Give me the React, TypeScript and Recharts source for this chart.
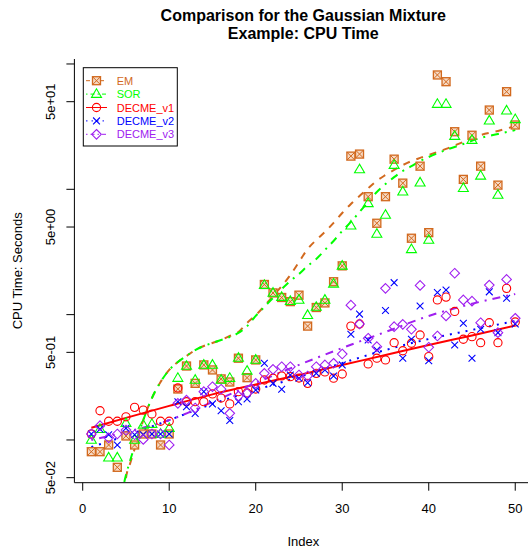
import React from "react";
import { ComposedChart, Scatter, Line, XAxis, YAxis } from "recharts";

// ---------- data ----------
const indices = [1,2,3,4,5,6,7,8,9,10,11,12,13,14,15,16,17,18,19,20,21,22,23,24,25,26,27,28,29,30,31,32,33,34,35,36,37,38,39,40,41,42,43,44,45,46,47,48,49,50];

const emTimes = [0.0806,0.0806,0.0912,0.0605,0.1076,0.0912,0.1116,0.1116,0.0912,0.1116,
  0.255,0.389,0.283,0.397,0.362,0.307,0.290,0.449,0.314,0.435,
  1.74,1.49,1.37,1.27,1.43,0.81,1.14,1.24,1.83,2.45,
  18.4,19.1,8.73,5.36,8.73,17.4,11.2,4.07,15.3,4.51,
  81.7,72.2,28.8,12.0,27.0,15.3,42.9,10.8,60.1,32.6];

const sorTimes = [0.100,0.122,0.0722,0.0722,0.136,0.100,0.132,0.134,0.1116,0.124,
  0.312,0.389,0.301,0.397,0.397,0.301,0.312,0.451,0.355,0.435,
  1.72,1.49,1.38,1.28,1.31,0.99,1.15,1.31,1.76,2.45,
  5.12,14.4,7.73,4.40,6.24,15.6,9.57,3.32,11.3,3.94,
  47.9,47.9,26.6,10.2,24.7,12.8,35.3,9.01,42.4,36.2];

const v1Times = [0.1116,0.171,0.141,0.141,0.153,0.182,0.173,0.161,0.141,0.141,
  0.260,0.202,0.202,0.202,0.233,0.216,0.194,0.243,0.237,0.255,
  0.301,0.311,0.324,0.320,0.312,0.283,0.340,0.349,0.311,0.336,
  0.81,0.842,0.404,0.449,0.435,0.597,0.515,0.591,0.688,0.462,
  1.31,1.38,1.06,0.636,0.667,0.597,0.862,0.597,1.62,0.874];

const v2Times = [0.1116,0.122,0.110,0.0912,0.124,0.110,0.110,0.1116,0.1116,0.1116,
  0.202,0.184,0.163,0.243,0.194,0.171,0.143,0.202,0.212,0.250,
  0.409,0.283,0.254,0.330,0.311,0.286,0.340,0.362,0.324,0.397,
  0.697,1.01,0.628,0.522,1.08,1.80,0.449,0.636,1.17,0.429,
  1.50,1.57,0.573,0.853,0.449,0.764,1.52,0.718,1.35,0.842];

const v3Times = [0.1116,0.130,0.104,0.1116,0.120,0.110,0.101,0.1116,0.1116,0.0912,
  0.196,0.208,0.180,0.243,0.266,0.254,0.163,0.224,0.236,0.283,
  0.340,0.366,0.384,0.384,0.330,0.324,0.384,0.397,0.409,0.485,
  1.19,0.842,0.648,0.555,1.62,0.802,0.837,0.764,1.71,0.549,
  0.675,0.976,2.14,1.31,1.28,0.862,1.72,0.718,1.91,0.935];

// smoothed fits
const emFitX = [4.8,5,5.5,6,7,8,9,10,11,12,13,14,15,16,17,18,19,20,21,22,23,24,25,26,27,28,29,30,31,32,33,34,35,36,37,38,39,40,42,44,46,48,50];
const emFitY = [0.0384,0.0497,0.0655,0.0847,0.144,0.216,0.290,0.362,0.419,0.468,0.522,0.562,0.594,0.628,0.675,0.727,0.858,0.99,1.17,1.41,1.69,2.07,2.63,3.34,3.94,4.57,5.39,6.47,7.64,8.84,10.2,11.7,13.0,14.3,15.6,16.8,17.8,18.8,21.0,23.9,27.1,29.2,32.0];

const sorFitX = [4.6,5,5.5,6,7,8,9,10,11,12,13,14,15,16,17,18,19,20,21,22,23,24,25,26,27,28,29,30,31,32,33,34,35,36,37,38,39,40,42,44,46,48,50];
const sorFitY = [0.0399,0.0525,0.0692,0.0895,0.144,0.216,0.290,0.362,0.419,0.468,0.522,0.562,0.594,0.628,0.663,0.714,0.81,0.976,1.15,1.36,1.60,1.86,2.11,2.45,2.78,3.28,3.87,4.65,5.49,6.59,7.92,9.52,11.0,12.5,14.0,15.3,16.8,18.1,20.6,23.0,25.7,27.6,29.7];

const smoothX = [1,5,10,15,20,25,30,35,40,45,50];
const v1FitY = [0.125,0.150,0.187,0.231,0.277,0.330,0.397,0.476,0.573,0.682,0.819];
const v2FitY = [0.0879,0.108,0.144,0.194,0.250,0.318,0.411,0.522,0.639,0.755,0.890];
const v3FitY = [0.100,0.116,0.144,0.201,0.285,0.397,0.542,0.727,0.976,1.22,1.46];

const xTicks = [0,10,20,30,40,50];
const yTicks = [0.05,0.1,0.5,1,5,10,50,100];
const yTickLabels: Record<string,string> = { "0.05": "5e-02", "0.5": "5e-01", "5": "5e+00", "50": "5e+01" };

const seriesNames = ["EM","SOR","DECME_v1","DECME_v2","DECME_v3"];

// ---------- styling ----------
const C_EM = "#D2691E";
const C_SOR = "#00FF00";
const C_V1 = "#FF0000";
const C_V2 = "#0000FF";
const C_V3 = "#A020F0";
const FONT = "'Liberation Sans', Arial, Helvetica, sans-serif";

const pts = (xs: number[], ys: number[]) => xs.map((x, i) => ({ x, y: ys[i] }));

const squareX = (p: any) => {
  const { cx, cy } = p; if (cx == null || cy == null) return <g />;
  const h = 4;
  return (<g>
    <rect x={cx - h} y={cy - h} width={2 * h} height={2 * h} fill="#F6D9C4" stroke={C_EM} strokeWidth={1.3} />
    <path d={`M${cx - h},${cy - h}L${cx + h},${cy + h}M${cx - h},${cy + h}L${cx + h},${cy - h}`} stroke={C_EM} strokeWidth={1} />
  </g>);
};
const triangle = (p: any) => {
  const { cx, cy } = p; if (cx == null || cy == null) return <g />;
  return <path d={`M${cx},${cy - 5.3}L${cx - 5},${cy + 3.3}L${cx + 5},${cy + 3.3}Z`} fill="none" stroke={C_SOR} strokeWidth={1.1} />;
};
const circle = (p: any) => {
  const { cx, cy } = p; if (cx == null || cy == null) return <g />;
  return <circle cx={cx} cy={cy} r={4.1} fill="none" stroke={C_V1} strokeWidth={1.1} />;
};
const cross = (p: any) => {
  const { cx, cy } = p; if (cx == null || cy == null) return <g />;
  const h = 3.4;
  return <path d={`M${cx - h},${cy - h}L${cx + h},${cy + h}M${cx - h},${cy + h}L${cx + h},${cy - h}`} stroke={C_V2} strokeWidth={1.1} />;
};
const diamond = (p: any) => {
  const { cx, cy } = p; if (cx == null || cy == null) return <g />;
  const h = 4.8;
  return <path d={`M${cx},${cy - h}L${cx + h},${cy}L${cx},${cy + h}L${cx - h},${cy}Z`} fill="none" stroke={C_V3} strokeWidth={1.1} />;
};

const YTick = (props: any) => {
  const { y, payload } = props;
  const lab = yTickLabels[String(payload.value)];
  if (!lab) return <g />;
  return (
    <text x={55} y={y} transform={`rotate(-90, 55, ${y})`} textAnchor="middle" fontSize={13} fontFamily={FONT} fill="#000">{lab}</text>
  );
};
const XTick = (props: any) => {
  const { x, payload } = props;
  return <text x={x} y={513.3} textAnchor="middle" fontSize={13} fontFamily={FONT} fill="#000">{payload.value}</text>;
};

const legendItems = [
  { name: seriesNames[0], color: C_EM, dash: "4 3", shape: squareX },
  { name: seriesNames[1], color: C_SOR, dash: "1.5 3 4 3", shape: triangle },
  { name: seriesNames[2], color: C_V1, dash: undefined, shape: circle },
  { name: seriesNames[3], color: C_V2, dash: "1.5 4", shape: cross },
  { name: seriesNames[4], color: C_V3, dash: "1.5 3 4 3", shape: diamond },
];

export default function App() {
  const W = 540, H = 553;
  return (
    <div style={{ position: "fixed", left: 0, top: 0, width: 528, height: 553, overflow: "hidden", background: "#fff" }}>
      <ComposedChart width={W} height={H} margin={{ top: 59, right: 7.8, left: 14.4, bottom: 30.3 }}>
        <XAxis dataKey="x" type="number" domain={[-0.96, 51.96]} allowDataOverflow ticks={xTicks} interval={0}
          tick={<XTick />} tickSize={8} height={40} stroke="#000" axisLine={{ stroke: "#000" }} tickLine={{ stroke: "#000" }} />
        <XAxis xAxisId="top" orientation="top" type="number" domain={[-0.96, 51.96]} allowDataOverflow height={0}
          tick={false} tickLine={false} axisLine={{ stroke: "#000" }} />
        <YAxis dataKey="y" type="number" scale="log" domain={[0.0456, 109.57]} allowDataOverflow ticks={yTicks} interval={0}
          tick={<YTick />} tickSize={8} width={60} axisLine={{ stroke: "#000" }} tickLine={{ stroke: "#000" }} />
        <Scatter name={seriesNames[0]} data={pts(indices, emTimes)} shape={squareX} isAnimationActive={false} />
        <Scatter name={seriesNames[1]} data={pts(indices, sorTimes)} shape={triangle} isAnimationActive={false} />
        <Scatter name={seriesNames[2]} data={pts(indices, v1Times)} shape={circle} isAnimationActive={false} />
        <Scatter name={seriesNames[3]} data={pts(indices, v2Times)} shape={cross} isAnimationActive={false} />
        <Scatter name={seriesNames[4]} data={pts(indices, v3Times)} shape={diamond} isAnimationActive={false} />
        <Line data={pts(emFitX, emFitY)} dataKey="y" type="monotone" stroke={C_EM} strokeWidth={2} strokeDasharray="7 7" dot={false} activeDot={false} isAnimationActive={false} />
        <Line data={pts(sorFitX, sorFitY)} dataKey="y" type="monotone" stroke={C_SOR} strokeWidth={2} strokeDasharray="2 6 8 6" dot={false} activeDot={false} isAnimationActive={false} />
        <Line data={pts(smoothX, v1FitY)} dataKey="y" type="monotone" stroke={C_V1} strokeWidth={2} dot={false} activeDot={false} isAnimationActive={false} />
        <Line data={pts(smoothX, v2FitY)} dataKey="y" type="monotone" stroke={C_V2} strokeWidth={2} strokeDasharray="2 6" dot={false} activeDot={false} isAnimationActive={false} />
        <Line data={pts(smoothX, v3FitY)} dataKey="y" type="monotone" stroke={C_V3} strokeWidth={2} strokeDasharray="2 6 8 6" dot={false} activeDot={false} isAnimationActive={false} />
      </ComposedChart>
      <svg width={528} height={553} style={{ position: "absolute", left: 0, top: 0, pointerEvents: "none" }}>
        <text x={303.3} y={20.5} textAnchor="middle" fontSize={16} fontWeight="bold" fontFamily={FONT} fill="#000">Comparison for the Gaussian Mixture</text>
        <text x={303.3} y={38.5} textAnchor="middle" fontSize={16} fontWeight="bold" fontFamily={FONT} fill="#000">Example: CPU Time</text>
        <text x={303.3} y={546} textAnchor="middle" fontSize={13} fontFamily={FONT} fill="#000">Index</text>
        <text x={22.3} y={270.85} transform="rotate(-90, 22.3, 270.85)" textAnchor="middle" fontSize={13} fontFamily={FONT} fill="#000">CPU Time: Seconds</text>
        <rect x={83.3} y={67.7} width={94} height={78.3} fill="#fff" stroke="#000" strokeWidth={1} />
        {legendItems.map((it, i) => {
          const y = 80.7 + i * 13.4;
          return (
            <g key={it.name}>
              <line x1={86} x2={107} y1={y} y2={y} stroke={it.color} strokeWidth={1} strokeDasharray={it.dash} />
              {it.shape({ cx: 96.5, cy: y })}
              <text x={116.7} y={y + 4} fontSize={11} fontFamily={FONT} fill={it.color}>{it.name}</text>
            </g>
          );
        })}
      </svg>
    </div>
  );
}
